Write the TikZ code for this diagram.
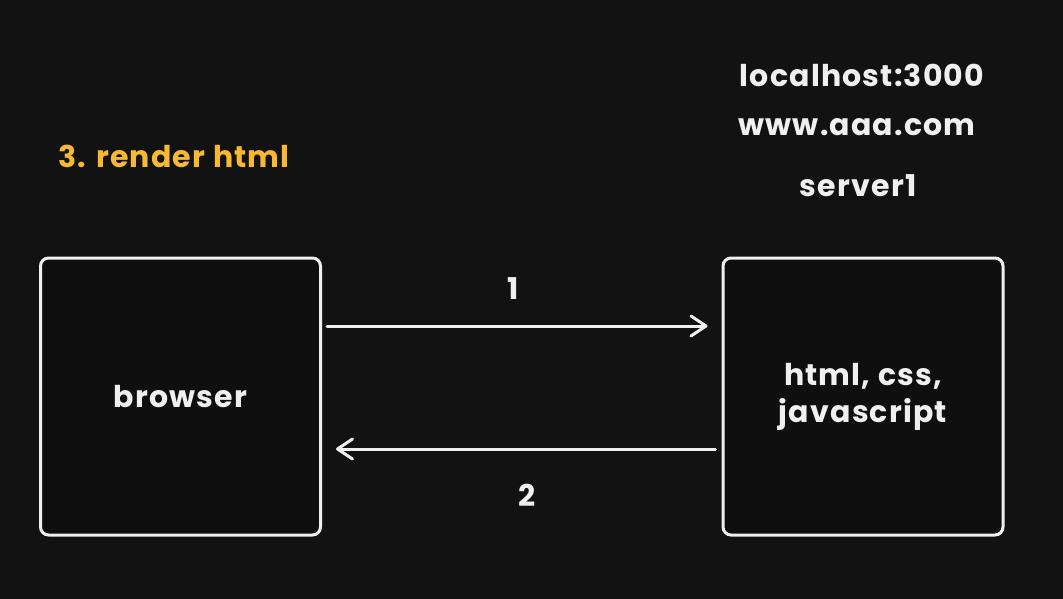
\documentclass[tikz,border=0pt]{standalone}
\usepackage{fontspec}
\setmainfont[LetterSpace=4]{Poppins}
\usetikzlibrary{arrows.meta}
\definecolor{bg}{HTML}{121212}
\definecolor{boxfill}{HTML}{0F0F0F}
\definecolor{ink}{HTML}{F0F0F0}
\definecolor{accent}{HTML}{F7B932}
\tikzset{
  txt/.style={font=\fontsize{30}{37}\selectfont\bfseries},
  panel/.style={draw=ink, fill=boxfill, line width=3pt, rounded corners=8pt,
    minimum width=280pt, minimum height=277pt, text=ink, txt,
    align=center, inner sep=0pt},
  label/.style={text=ink, txt, inner sep=0pt, anchor=center},
  arr/.style={draw=ink, line width=3pt, line cap=round,
    -{Straight Barb[length=15pt, width=20pt, line cap=round, line join=round]}}
}
\begin{document}
\begin{tikzpicture}[x=1pt, y=-1pt]
\fill[bg] (0,0) rectangle (1063,599);
\useasboundingbox (0,0) rectangle (1063,599);
\node[panel] (browser) at (180.5,396.5) {browser};
\node[panel] (server) at (863,396.5) {html, css,\\javascript};
\coordinate (a1) at (0,326);
\coordinate (a2) at (0,449);
\draw[arr, shorten <=5pt, shorten >=14pt] (browser.east |- a1) -- (server.west |- a1);
\draw[arr, shorten <=6pt, shorten >=14pt] (server.west |- a2) -- (browser.east |- a2);
\node[label] (one) at (513,289) {1};
\node[label] (two) at (527,495) {2};
\node[label] (host) at (862,75) {localhost:3000};
\node[label] (www) at (857,127) {www.aaa.com};
\node[label] (srv) at (858,186) {server1};
\node[label, text=accent] (render) at (174,156) {3. render html};
\end{tikzpicture}
\end{document}
